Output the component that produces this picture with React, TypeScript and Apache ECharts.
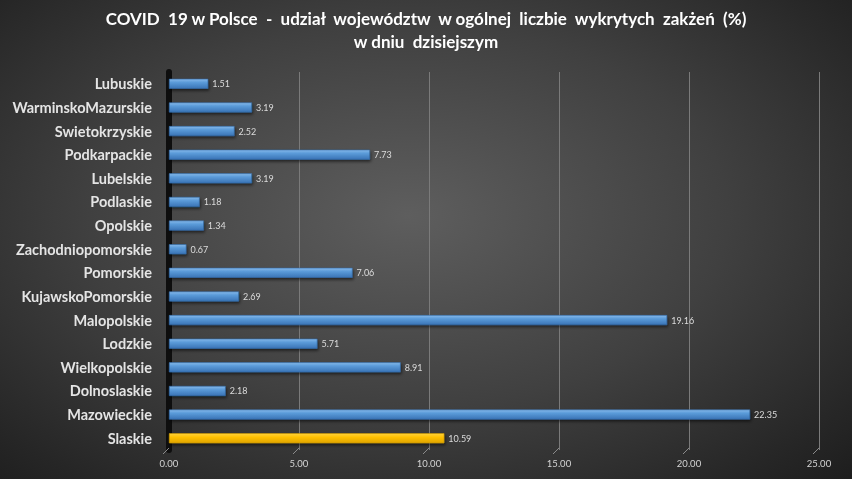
import React, { useEffect, useRef } from "react";
import * as echarts from "echarts";

const categories = [
  "Lubuskie",
  "WarminskoMazurskie",
  "Swietokrzyskie",
  "Podkarpackie",
  "Lubelskie",
  "Podlaskie",
  "Opolskie",
  "Zachodniopomorskie",
  "Pomorskie",
  "KujawskoPomorskie",
  "Malopolskie",
  "Lodzkie",
  "Wielkopolskie",
  "Dolnoslaskie",
  "Mazowieckie",
  "Slaskie",
];
const values = [1.51, 3.19, 2.52, 7.73, 3.19, 1.18, 1.34, 0.67, 7.06, 2.69, 19.16, 5.71, 8.91, 2.18, 22.35, 10.59];
const highlighted = "Slaskie";
const xTicks = [0, 5, 10, 15, 20, 25];
const titleLines = [
  "COVID  19 w Polsce  -  udział  województw  w ogólnej  liczbie  wykrytych  zakżeń  (%)",
  "w dniu  dzisiejszym",
];

const blue = {
  type: "linear", x: 0, y: 0, x2: 0, y2: 1,
  colorStops: [
    { offset: 0, color: "#86b9ea" },
    { offset: 0.35, color: "#5b9bd9" },
    { offset: 1, color: "#3a74b6" },
  ],
};
const yellow = {
  type: "linear", x: 0, y: 0, x2: 0, y2: 1,
  colorStops: [
    { offset: 0, color: "#ffd23a" },
    { offset: 0.4, color: "#ffc000" },
    { offset: 1, color: "#e0a500" },
  ],
};

export default function App() {
  const ref = useRef<HTMLDivElement>(null);
  useEffect(() => {
    if (!ref.current) return;
    const chart = echarts.init(ref.current, null, { renderer: "svg" });
    chart.setOption({
      animation: false,
      title: {
        text: titleLines.join("\n"),
        left: "center",
        top: 2,
        textStyle: {
          color: "#ffffff",
          fontFamily: "Lato",
          fontWeight: "bold",
          fontSize: 17,
          lineHeight: 23,
        },
      },
      grid: { left: 169, right: 33, top: 72, bottom: 29, containLabel: false },
      xAxis: {
        type: "value",
        min: 0,
        max: 25,
        interval: 5,
        axisLine: { show: false },
        axisTick: { show: false },
        splitLine: { show: true, lineStyle: { color: "#7a7a7a", width: 1 } },
        axisLabel: {
          color: "#d4d4d4",
          fontSize: 9.5,
          fontFamily: "Lato",
          margin: 8,
          formatter: (v: number) => v.toFixed(2),
        },
      },
      yAxis: {
        type: "category",
        data: categories,
        inverse: true,
        axisLine: { show: true, lineStyle: { color: "#0e0e0e", width: 6 } },
        axisTick: { show: false },
        splitLine: { show: false },
        axisLabel: {
          color: "#e4e4e4",
          fontSize: 14.5,
          fontWeight: "bold",
          fontFamily: "Lato",
          margin: 17,
        },
      },
      series: [
        {
          type: "custom",
          silent: true,
          data: xTicks,
          renderItem: (params: any, api: any) => {
            const v = api.value(0);
            const p = api.coord([v, 0]);
            const bottom = params.coordSys.y + params.coordSys.height;
            return {
              type: "line",
              shape: { x1: p[0], y1: bottom - 2, x2: p[0] - 6, y2: bottom + 4 },
              style: { stroke: "#8a8a8a", lineWidth: 1 },
            };
          },
          encode: { x: 0 },
          z: 1,
        },
        {
          type: "bar",
          barWidth: 10,
          z: 3,
          data: values.map((v, i) => ({
            value: v,
            itemStyle: {
              color: categories[i] === highlighted ? yellow : blue,
              borderColor: categories[i] === highlighted ? "#c99700" : "#3169a8",
              borderWidth: 0.6,
              shadowColor: "rgba(0,0,0,0.55)",
              shadowBlur: 3,
              shadowOffsetX: 1,
              shadowOffsetY: 2,
            },
          })),
          label: {
            show: true,
            position: "right",
            distance: 4,
            color: "#dcdcdc",
            fontSize: 9,
            fontFamily: "Lato",
            formatter: (p: any) => Number(p.value).toFixed(2),
          },
        },
      ],
    });
    return () => chart.dispose();
  }, []);
  return (
    <div
      ref={ref}
      style={{
        position: "fixed",
        left: 0,
        top: 0,
        width: 852,
        height: 479,
        background:
          "radial-gradient(ellipse 75% 80% at 48% 45%, #5e5e5e 0%, #404040 50%, #262626 85%, #1c1c1c 100%)",
      }}
    />
  );
}
